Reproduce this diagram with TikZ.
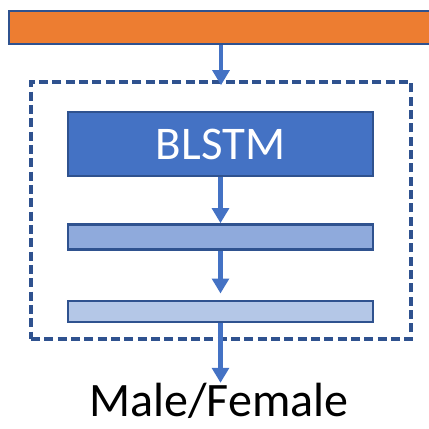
\documentclass[tikz,border=0pt]{standalone}
\usepackage{fontspec}
\setmainfont{Carlito}
\usepackage{tikz}
\usepackage{xcolor}
\usetikzlibrary{arrows.meta, positioning}

\definecolor{edgeblue}{HTML}{2F528F}
\definecolor{arrowblue}{HTML}{4472C4}
\definecolor{featorange}{HTML}{ED7D31}
\definecolor{fcmid}{HTML}{8FAADC}
\definecolor{fclight}{HTML}{B4C7E7}

\tikzset{
  layer/.style={draw=edgeblue, line width=2pt, minimum width=9.15cm, inner sep=0pt},
  flow/.style={draw=arrowblue, line width=4.2pt, -{Triangle[width=0.5cm, length=0.45cm]}},
}

\begin{document}
\begin{tikzpicture}[node distance=1.4cm]
\useasboundingbox (0,0) rectangle (12.87,12.84);

% input features
\node[draw=edgeblue, fill=featorange, line width=2pt, minimum width=12.93cm, minimum height=0.99cm, inner sep=0pt] (feat) at (6.735,12.015) {};

% classifier block
\node[draw=edgeblue, dash pattern=on 0.27cm off 0.13cm, line width=3pt, minimum width=11.4cm, minimum height=7.71cm] (grp) at (6.63,6.525) {};
\node[layer, fill=arrowblue, minimum height=1.92cm, text=white, font=\fontsize{40}{48}\selectfont] (blstm) at (6.615,8.52) {BLSTM};
\node[layer, fill=fcmid, minimum height=0.75cm, below=1.38cm of blstm] (fc1) {};
\node[layer, fill=fclight, minimum height=0.63cm, below=1.47cm of fc1] (fc2) {};

\coordinate (in) at ([yshift=-0.15cm]grp.north);
\coordinate (out) at ([yshift=-1.8cm]fc2.south);
\node[anchor=base, inner sep=0pt, font=\fontsize{41}{49}\selectfont] (gender) at (6.57,0.36) {Male/Female};

\draw[flow] (feat.south -| in) -- (in);
\draw[flow] (blstm) -- (fc1);
\draw[flow] (fc1) -- ([yshift=0.18cm]fc2.north);
\draw[flow] (fc2) -- (out);
\end{tikzpicture}
\end{document}
